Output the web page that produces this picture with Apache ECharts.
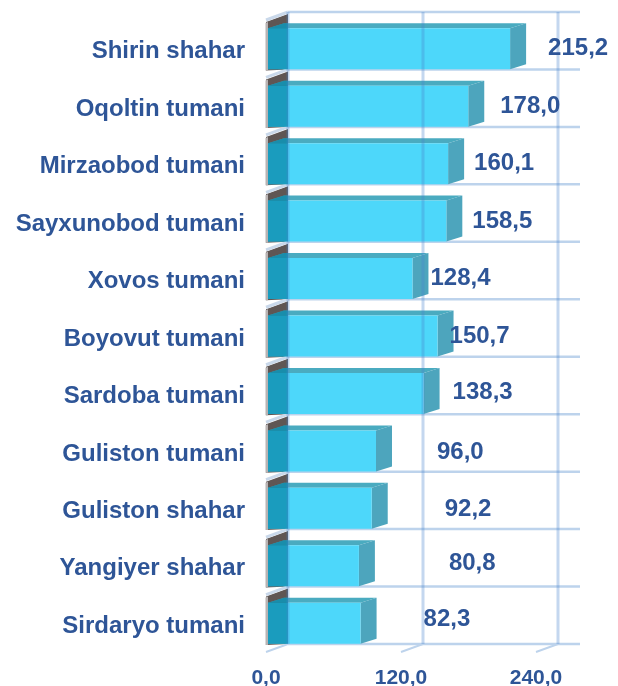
<!DOCTYPE html>
<html>
<head>
<meta charset="utf-8">
<script src="https://cdn.jsdelivr.net/npm/echarts@6/dist/echarts.min.js"></script>
<style>
  html, body { margin: 0; padding: 0; background: #fff; }
  #main { width: 618px; height: 686px; }
</style>
</head>
<body>
<div id="main"></div>
<script>
const categories = ['Shirin shahar', 'Oqoltin tumani', 'Mirzaobod tumani', 'Sayxunobod tumani', 'Xovos tumani',
  'Boyovut tumani', 'Sardoba tumani', 'Guliston tumani', 'Guliston shahar', 'Yangiyer shahar', 'Sirdaryo tumani']
const values = [215.2, 178.0, 160.1, 158.5, 128.4, 150.7, 138.3, 96.0, 92.2, 80.8, 82.3]
const xTicks = [0, 120, 240]

// gap between the bar end and its label, the labels sit unevenly in the original
const labelGaps = [22, 16, 10, 10, 2, -4, 13, 45, 57, 74, 47]
const labelShifts = [0, 0, 0, 0, 0, 0, -1, 1, 1, -2, -4]

const textColor = '#2e5597'
const gridColor = '#bdd3ec'
const wallDx = 22, wallDy = -8     // back wall offset
const barDx = 16, barDy = -5       // bar depth
const barInset = 2                 // bar starts a bit inside of the front plane
const rowData = values.map((v, i) => [v, i])
const fmt = (v) => v.toFixed(1).replace('.', ',')

const poly = (points, fill) => ({ type: 'polygon', shape: { points }, style: { fill } })
const line = (x1, y1, x2, y2, stroke, lineWidth) => ({
  type: 'line', shape: { x1, y1, x2, y2 }, style: { stroke, lineWidth }
})

// walls and horizontal lines, behind the bars
const renderBack = (params, api) => {
  const h = api.size([0, 1])[1]
  const p = api.coord([0, api.value(1)])
  const x0 = p[0], top = p[1] - h / 2, bottom = p[1] + h / 2
  const xEnd = api.coord([240, 0])[0] + wallDx + 22
  const children = [
    poly([[x0, top + 2], [x0 + wallDx, top + wallDy + 2], [x0 + wallDx, bottom - 8], [x0, bottom - 7]], '#5f5654'),
    poly([[x0 - 0.5, top + 3], [x0 + 2, top + 2], [x0 + 2, bottom - 7], [x0 - 0.5, bottom - 7]], '#b8b3b3'),
    line(x0 + wallDx, top + wallDy, xEnd, top + wallDy, gridColor, 2.5),
    line(x0, top, x0 + wallDx, top + wallDy, '#c9d8ea', 3)
  ]
  if (params.dataIndex === values.length - 1) {
    children.push(line(x0 + wallDx, bottom + wallDy, xEnd, bottom + wallDy, gridColor, 2.5))
    xTicks.forEach((t) => {
      const x = api.coord([t, 0])[0]
      children.push(line(x, bottom, x + wallDx, bottom + wallDy, gridColor, 2))
    })
  }
  return { type: 'group', children }
}

const renderBar = (params, api) => {
  const p = api.coord([api.value(0), api.value(1)])
  const x0 = api.coord([0, 0])[0] + barInset
  const x1 = p[0] + barInset
  const t = p[1] - 20.5, b = p[1] + 20.5
  return {
    type: 'group',
    children: [
      poly([[x0, t], [x0 + barDx, t + barDy], [x1 + barDx, t + barDy], [x1, t]], '#4aabc0'),
      poly([[x1, t], [x1 + barDx, t + barDy], [x1 + barDx, b + barDy], [x1, b]], '#4da5bd'),
      { type: 'rect', shape: { x: x0, y: t, width: x1 - x0, height: b - t }, style: { fill: '#4dd7fa' } }
    ]
  }
}

// see-through part of the wall and the vertical lines go over the bars
const renderFront = (params, api) => {
  const p = api.coord([0, api.value(1)])
  const x0 = p[0] + barInset, xb = p[0] + wallDx
  const t = p[1] - 20.5, b = p[1] + 20.5
  return {
    type: 'group',
    children: [poly([[x0, t], [x0 + barDx, t + barDy], [xb, t + barDy], [xb, b], [x0, b]], 'rgba(0,126,160,0.66)')]
  }
}

const renderGrid = (params, api) => {
  const h = api.size([0, 1])[1] * values.length
  const top = api.coord([0, 0])[1] - api.size([0, 1])[1] / 2
  const x = api.coord([api.value(0), 0])[0] + wallDx
  return line(x, top + wallDy, x, top + h + wallDy, 'rgba(70,130,205,0.32)', 3)
}

const renderLabel = (params, api) => {
  const p = api.coord([api.value(0), api.value(1)])
  return {
    type: 'text',
    x: p[0] + barInset + barDx + labelGaps[params.dataIndex],
    y: p[1] + labelShifts[params.dataIndex],
    style: {
      text: fmt(api.value(0)),
      font: 'bold 24px "Liberation Sans", Arial, sans-serif',
      fill: textColor,
      verticalAlign: 'middle'
    }
  }
}

const chart = echarts.init(document.getElementById('main'))
chart.setOption({
  animation: false,
  backgroundColor: '#fff',
  grid: { left: 266, top: 20, width: 270, height: 632, outerBoundsMode: 'none' },
  xAxis: {
    type: 'value',
    min: 0,
    max: 240,
    interval: 120,
    axisLine: { show: false },
    axisTick: { show: false },
    splitLine: { show: false },
    axisLabel: {
      color: textColor,
      fontFamily: '"Liberation Sans", Arial, sans-serif',
      fontWeight: 'bold',
      fontSize: 21,
      margin: 16,
      formatter: fmt
    }
  },
  yAxis: {
    type: 'category',
    inverse: true,
    data: categories,
    axisLine: { show: false },
    axisTick: { show: false },
    axisLabel: {
      color: textColor,
      fontFamily: '"Liberation Sans", Arial, sans-serif',
      fontWeight: 'bold',
      fontSize: 24,
      margin: 21,
      verticalAlign: 'top',
      lineHeight: 6
    }
  },
  series: [
    { type: 'custom', z: 1, renderItem: renderBack, data: rowData, silent: true },
    { type: 'custom', z: 2, renderItem: renderBar, data: rowData, silent: true },
    { type: 'custom', z: 3, renderItem: renderFront, data: rowData, silent: true },
    { type: 'custom', z: 4, renderItem: renderGrid, data: xTicks.map((t) => [t]), silent: true },
    { type: 'custom', z: 5, renderItem: renderLabel, data: rowData, silent: true }
  ]
})
</script>
</body>
</html>
